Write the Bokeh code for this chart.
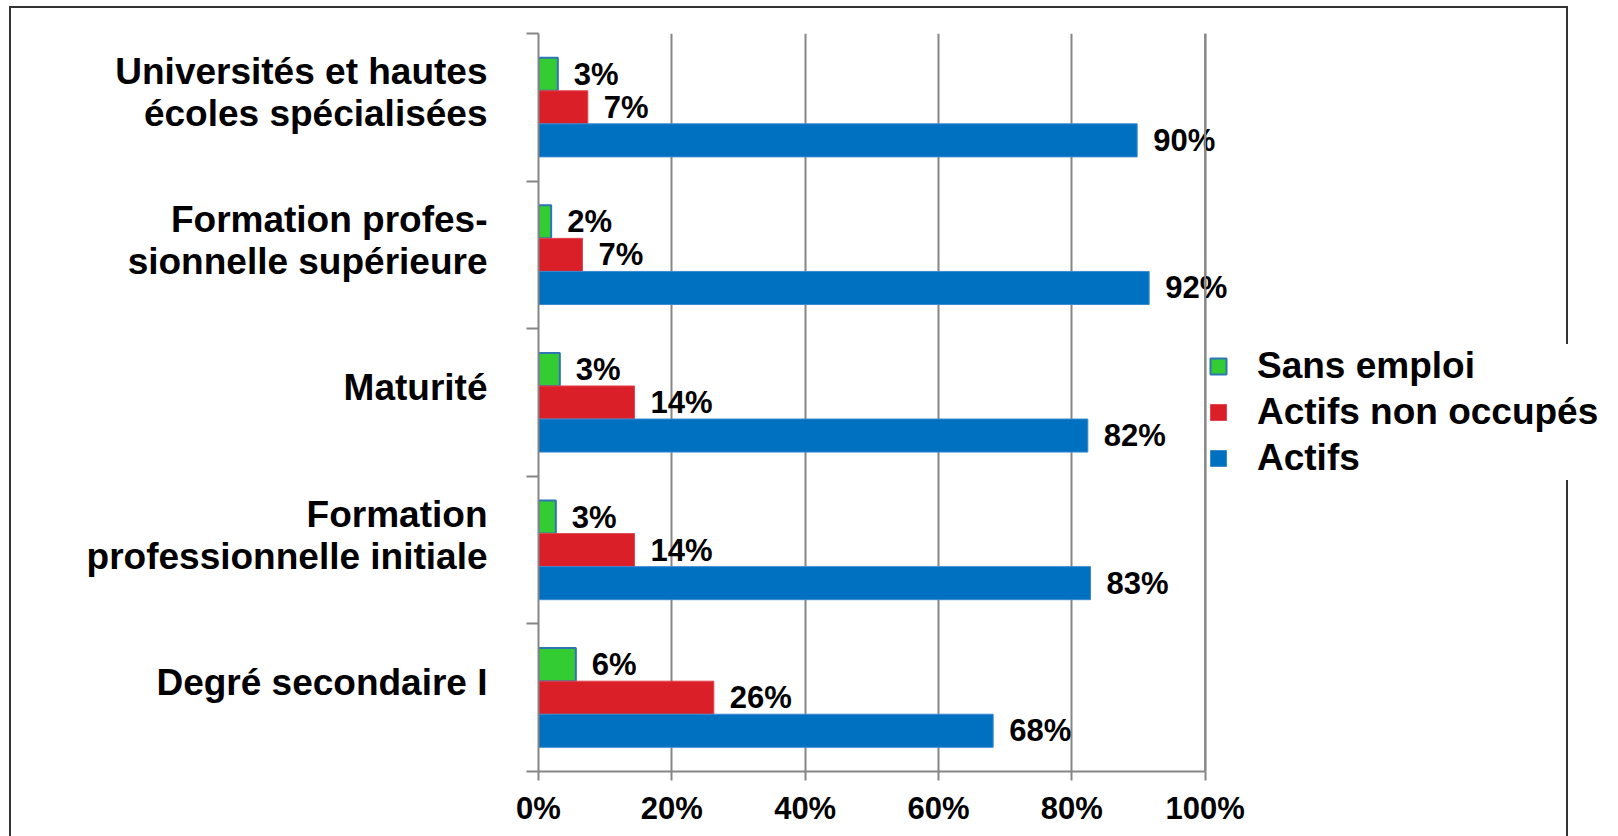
from bokeh.plotting import figure
from bokeh.models import (Range1d, FixedTicker, PrintfTickFormatter, Legend, LegendItem,
                          Span, ColumnDataSource, LabelSet)
from bokeh.transform import dodge
from bokeh.core.properties import value
from bokeh.embed import file_html
from bokeh.resources import INLINE

# ---- data ----
categories = [
    "Universités et hautes\nécoles spécialisées",
    "Formation profes-\nsionnelle supérieure",
    "Maturité",
    "Formation\nprofessionnelle initiale",
    "Degré secondaire I",
]
series_names = ["Sans emploi", "Actifs non occupés", "Actifs"]
sans_emploi = [2.9, 1.9, 3.2, 2.6, 5.6]
actifs_non_occupes = [7.4, 6.6, 14.4, 14.4, 26.3]
actifs = [89.8, 91.6, 82.4, 82.8, 68.2]
x_ticks = [0, 20, 40, 60, 80, 100]

# ---- styles ----
FONT = "Liberation Sans"
colors = ["#33CC33", "#DA1F28", "#0070C0"]
line_colors = ["#2E75B6", "#E0474E", "#3A8AD0"]
line_widths = [2, 1, 1]
BAR_H = 0.224
offsets = [BAR_H, 0.0, -BAR_H]
GRID = "#868686"
X_VIEW_END = 162   # plot area runs on to the right edge so labels/legend are not clipped

n = len(categories)
centers = [n - 0.5 - i for i in range(n)]

p = figure(width=1618, height=836, x_range=Range1d(0, X_VIEW_END), y_range=Range1d(0, n),
           output_backend="svg", toolbar_location=None,
           min_border_left=538, min_border_right=0, min_border_top=33, min_border_bottom=65)
p.outline_line_color = None
p.background_fill_alpha = 0
p.border_fill_alpha = 0
# outer chart frame, drawn as the page background behind the (transparent) canvas
p.styles = {
    "background-color": "white",
    "background-image": "linear-gradient(#333333,#333333), linear-gradient(#333333,#333333), "
                        "linear-gradient(#333333,#333333)",
    "background-position": "9px 6px, 9px 6px, 1566px 6px",
    "background-size": "2px 900px, 1559px 2px, 2px 900px",
    "background-repeat": "no-repeat",
}

all_values = [sans_emploi, actifs_non_occupes, actifs]
renderers = []
for vals, col, lc, lw, off in zip(all_values, colors, line_colors, line_widths, offsets):
    src = ColumnDataSource(dict(y=centers, v=vals, label=[f"{round(v)}%" for v in vals]))
    r = p.hbar(y=dodge("y", off), left=0, right="v", height=BAR_H, source=src,
               fill_color=col, line_color=lc, line_width=lw)
    renderers.append(r)
    labels = LabelSet(x="v", y=dodge("y", off), text="label", source=src,
                      x_offset=16, text_baseline="middle", text_align="left",
                      text_font=value(FONT), text_font_style="bold",
                      text_font_size="31px", text_color="black")
    p.add_layout(labels)

# x axis
xa = p.xaxis[0]
xa.ticker = FixedTicker(ticks=x_ticks)
xa.bounds = (x_ticks[0], x_ticks[-1])
xa.formatter = PrintfTickFormatter(format="%d%%")
xa.major_tick_out = 9
xa.major_tick_in = 0
xa.minor_tick_line_color = None
xa.axis_line_color = GRID
xa.axis_line_width = 2
xa.major_tick_line_color = GRID
xa.major_tick_line_width = 2
xa.major_label_text_font = FONT
xa.major_label_text_font_style = "bold"
xa.major_label_text_font_size = "31px"
xa.major_label_text_color = "black"
xa.major_label_standoff = 10

# y axis: labels near band centres, ticks on band boundaries
LABEL_SHIFT = 0.1
label_pos = [round(c + LABEL_SHIFT, 3) for c in centers]
ya = p.yaxis[0]
ya.ticker = FixedTicker(ticks=label_pos, minor_ticks=list(range(n + 1)))
ya.major_label_overrides = {pos: cat for pos, cat in zip(label_pos, categories)}
ya.major_tick_line_color = None
ya.major_tick_out = 0
ya.major_tick_in = 0
ya.minor_tick_line_color = GRID
ya.minor_tick_line_width = 2
ya.minor_tick_out = 12
ya.minor_tick_in = 0
ya.axis_line_color = GRID
ya.axis_line_width = 2
ya.major_label_text_font = FONT
ya.major_label_text_font_style = "bold"
ya.major_label_text_font_size = "37px"
ya.major_label_text_line_height = 1.03
ya.major_label_text_color = "black"
ya.major_label_standoff = 39

p.ygrid.visible = False
p.xgrid.ticker = FixedTicker(ticks=x_ticks)
p.xgrid.grid_line_color = GRID
p.xgrid.grid_line_width = 2

legend = Legend(items=[LegendItem(label=name, renderers=[r]) for name, r in zip(series_names, renderers)],
                location=(670, 291), orientation="vertical",
                glyph_width=20, glyph_height=20, label_height=44, spacing=2,
                label_standoff=29, padding=0, margin=0,
                border_line_color=None,
                background_fill_color="white", background_fill_alpha=1,
                label_text_font=FONT, label_text_font_style="bold",
                label_text_font_size="37px", label_text_color="black")
p.add_layout(legend)

# 100% gridline stays visible over the legend background
p.add_layout(Span(location=x_ticks[-1], dimension="height", line_color=GRID, line_width=2))

open("out.html", "w").write(file_html(p, INLINE))
